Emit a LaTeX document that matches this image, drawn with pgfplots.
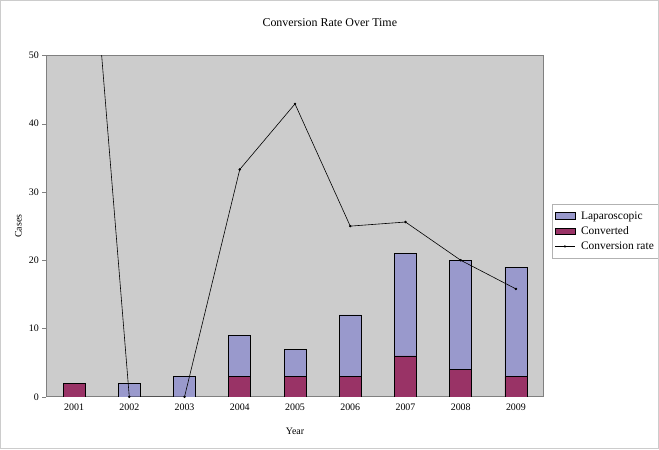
\documentclass[border=0pt]{standalone}
\usepackage{pgfplots}
\pgfplotsset{compat=1.18}
\usepackage{fontspec}
\setmainfont{Liberation Serif}
\definecolor{lap}{HTML}{9999CC}
\definecolor{conv}{HTML}{993366}
\definecolor{plotbg}{HTML}{CCCCCC}
\begin{document}
\begin{tikzpicture}
\begin{axis}[
  at={(0,0)}, anchor=south west,
  scale only axis, width=498bp, height=342bp,
  axis background/.style={fill=plotbg},
  axis line style={draw=black!50, line width=0.8pt},
  xmin=-0.5, xmax=8.5, ymin=0, ymax=50,
  xtick={0,...,8},
  xticklabels={2001,2002,2003,2004,2005,2006,2007,2008,2009},
  major x tick style={draw=none},
  extra x ticks={0.5,1.5,...,7.5},
  extra x tick labels={},
  extra x tick style={major tick length=4bp, tick style={draw=black!50}},
  ytick={0,10,...,50},
  tick pos=left,
  tick align=outside,
  major tick length=4bp,
  y tick style={draw=black!50},
  tick label style={font=\fontsize{10}{11}\selectfont},
  /pgf/number format/assume math mode=true,
  xlabel={Year}, ylabel={Cases},
  label style={font=\fontsize{10.5}{12}\selectfont},
  every axis x label/.style={at={(rel axis cs:0.5,-0.102)}, anchor=center},
  every axis y label/.style={at={(rel axis cs:-0.0562,0.5)}, rotate=90, anchor=center},
  title={Conversion Rate Over Time},
  title style={font=\fontsize{12}{14}\selectfont, at={(rel axis cs:0.570,1.078)}, anchor=center, yshift=0pt},
  ybar stacked, bar width=22bp,
  legend style={at={(rel axis cs:1.016,0.485)}, anchor=west, draw=black!30, fill=white,
    font=\fontsize{11.5}{13}\selectfont, row sep=2pt, inner xsep=3pt, inner ysep=5pt},
  legend cell align=left,
]
\addplot[ybar stacked, fill=conv, draw=black, line width=0.6pt, forget plot] coordinates {
 (0,2) (1,0) (2,0) (3,3) (4,3) (5,3) (6,6) (7,4) (8,3)};
\addplot[ybar stacked, fill=lap, draw=black, line width=0.6pt, forget plot] coordinates {
 (0,0) (1,2) (2,3) (3,6) (4,4) (5,9) (6,15) (7,16) (8,16)};
\addlegendimage{legend image code/.code={\draw[fill=lap, draw=black, line width=0.6pt] (0,-0.1cm) rectangle (0.7cm,0.12cm);}}
\addlegendentry{\hspace{4pt}Laparoscopic}
\addlegendimage{legend image code/.code={\draw[fill=conv, draw=black, line width=0.6pt] (0,-0.1cm) rectangle (0.7cm,0.12cm);}}
\addlegendentry{\hspace{4pt}Converted}
\addlegendimage{legend image code/.code={\draw[black, line width=0.6pt] (0,0) -- (0.7cm,0); \fill[black] (0.35cm,0) circle (0.9pt);}}
\addlegendentry{\hspace{4pt}Conversion rate}
\end{axis}
\begin{axis}[
  at={(0,0)}, anchor=south west,
  scale only axis, width=498bp, height=342bp,
  xmin=-0.5, xmax=8.5, ymin=0, ymax=50,
  hide axis, clip=true,
]
\addplot[sharp plot, black, line width=0.6pt, mark=*, mark size=0.9pt] coordinates {
 (0,100) (1,0) (2,0) (3,33.3) (4,42.9) (5,25.0) (6,25.6) (7,20.0) (8,15.8)};
\end{axis}
\draw[black!20, line width=1pt] (-46bp,-52bp) rectangle (613bp,397bp);
\path[use as bounding box] (-46bp,-52bp) rectangle (613bp,397bp);
\end{tikzpicture}
\end{document}
